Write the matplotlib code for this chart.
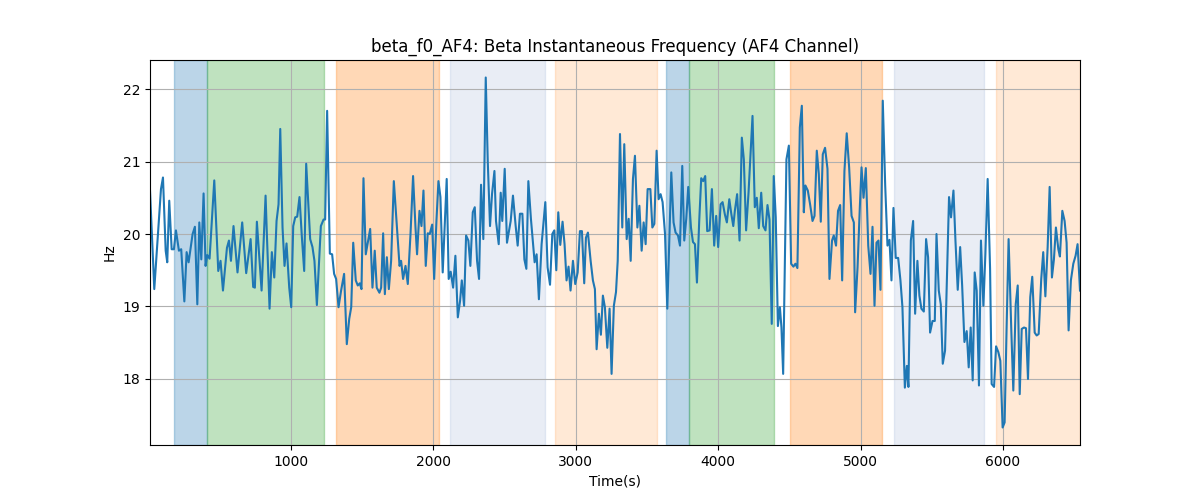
import matplotlib
matplotlib.use('Agg')
from matplotlib import pyplot as plt

# time points (s) and beta instantaneous frequency (Hz)
t = [14, 44, 91, 105, 124, 135, 149, 166, 182, 196, 217, 233, 255, 271, 285, 313, 329, 346, 360, 374,
     390, 404, 416, 432, 465, 493, 509, 526, 554, 568, 582, 600, 628, 661, 689, 720, 738, 750, 764, 797,
     825, 834, 853, 869, 886, 902, 916, 928, 944, 958, 972, 991, 1005, 1019, 1033, 1047, 1063, 1080, 1096, 1110,
     1138, 1154, 1168, 1185, 1213, 1232, 1243, 1257, 1276, 1292, 1306, 1320, 1337, 1355, 1376, 1395, 1412, 1426, 1440, 1458,
     1472, 1486, 1498, 1512, 1528, 1559, 1575, 1591, 1605, 1624, 1636, 1650, 1662, 1676, 1690, 1706, 1725, 1744, 1765, 1776,
     1790, 1807, 1823, 1842, 1860, 1877, 1888, 1905, 1919, 1933, 1949, 1963, 1977, 1994, 2008, 2024, 2038, 2052, 2068, 2082,
     2096, 2110, 2124, 2141, 2157, 2174, 2190, 2202, 2218, 2232, 2248, 2262, 2279, 2293, 2309, 2323, 2337, 2353, 2370, 2384,
     2400, 2414, 2431, 2442, 2461, 2475, 2486, 2503, 2519, 2545, 2561, 2580, 2594, 2610, 2627, 2641, 2655, 2669, 2687, 2713,
     2727, 2743, 2762, 2788, 2804, 2821, 2837, 2851, 2865, 2879, 2893, 2909, 2923, 2937, 2951, 2965, 2982, 2998, 3015, 3031,
     3045, 3061, 3073, 3087, 3106, 3122, 3136, 3148, 3164, 3178, 3192, 3206, 3223, 3239, 3253, 3269, 3284, 3296, 3312, 3328,
     3342, 3359, 3373, 3387, 3403, 3417, 3434, 3448, 3464, 3478, 3492, 3506, 3525, 3539, 3553, 3569, 3583, 3597, 3611, 3628,
     3644, 3658, 3672, 3688, 3702, 3719, 3733, 3749, 3763, 3777, 3791, 3810, 3824, 3838, 3852, 3868, 3882, 3896, 3910, 3924,
     3941, 3957, 3973, 3987, 4001, 4018, 4032, 4048, 4062, 4079, 4093, 4107, 4118, 4134, 4151, 4167, 4181, 4197, 4214, 4230,
     4242, 4258, 4272, 4286, 4303, 4317, 4333, 4347, 4361, 4377, 4391, 4405, 4420, 4434, 4445, 4457, 4480, 4497, 4513, 4529,
     4543, 4557, 4574, 4588, 4602, 4613, 4630, 4646, 4663, 4677, 4693, 4707, 4721, 4735, 4751, 4768, 4782, 4800, 4812, 4828,
     4842, 4857, 4871, 4887, 4903, 4920, 4937, 4953, 4962, 4979, 4995, 5007, 5021, 5037, 5054, 5070, 5084, 5098, 5112, 5126,
     5140, 5156, 5173, 5189, 5203, 5217, 5231, 5247, 5264, 5280, 5294, 5311, 5325, 5336, 5353, 5369, 5383, 5399, 5413, 5427,
     5444, 5460, 5474, 5488, 5505, 5521, 5533, 5549, 5563, 5577, 5593, 5607, 5621, 5635, 5652, 5666, 5682, 5699, 5713, 5729,
     5745, 5759, 5773, 5787, 5801, 5815, 5831, 5845, 5862, 5876, 5892, 5909, 5920, 5937, 5951, 5967, 5981, 5997, 6011, 6025,
     6039, 6058, 6072, 6089, 6103, 6117, 6131, 6147, 6161, 6175, 6191, 6205, 6222, 6236, 6250, 6268, 6282, 6297, 6313, 6327,
     6343, 6357, 6371, 6388, 6399, 6416, 6432, 6446, 6460, 6476, 6493, 6509, 6523, 6540]
hz = [20.60, 19.24, 20.62, 20.78, 19.77, 19.61, 20.46, 19.79, 19.79, 20.05, 19.77, 19.79, 19.07, 19.75, 19.61, 20.00, 20.10, 19.03, 20.16, 19.65,
      20.56, 19.56, 19.71, 19.66, 20.74, 19.49, 19.63, 19.22, 19.81, 19.91, 19.63, 20.11, 19.47, 20.16, 19.46, 19.93, 19.27, 19.26, 20.17, 19.22,
      20.53, 20.00, 18.97, 19.75, 19.40, 20.18, 20.41, 21.45, 20.09, 19.56, 19.87, 19.26, 18.99, 20.11, 20.23, 20.24, 20.51, 19.95, 19.49, 20.97,
      19.93, 19.82, 19.63, 19.02, 20.11, 20.20, 20.20, 21.70, 19.73, 19.72, 19.45, 19.38, 18.99, 19.22, 19.45, 18.48, 18.83, 18.99, 19.88, 19.36,
      19.29, 19.32, 19.24, 20.77, 19.72, 20.07, 19.26, 19.77, 19.26, 19.19, 19.26, 20.01, 19.17, 19.68, 19.24, 19.63, 20.73, 20.18, 19.56, 19.63,
      19.38, 19.56, 19.31, 20.00, 20.80, 20.09, 19.72, 20.32, 20.11, 20.60, 19.56, 20.01, 20.00, 20.13, 19.38, 20.18, 20.73, 20.51, 19.47, 20.11,
      20.76, 19.38, 19.48, 19.26, 19.70, 18.85, 19.08, 19.36, 19.01, 19.98, 19.91, 19.56, 20.30, 20.37, 19.63, 19.38, 20.68, 19.93, 22.16, 21.01,
      20.11, 20.55, 20.87, 20.18, 19.86, 20.57, 20.18, 20.90, 19.88, 20.18, 20.53, 20.11, 19.84, 20.28, 20.28, 19.65, 19.52, 20.73, 20.21, 19.61,
      19.72, 19.10, 19.86, 20.44, 19.54, 19.30, 20.00, 20.05, 19.50, 20.30, 19.85, 20.17, 19.86, 19.36, 19.55, 19.22, 19.63, 19.31, 19.47, 20.04,
      20.04, 19.32, 19.95, 20.02, 19.63, 19.36, 19.24, 18.41, 18.90, 18.61, 19.15, 18.99, 18.43, 18.97, 18.07, 19.01, 19.20, 19.63, 21.38, 20.09,
      21.24, 19.93, 20.21, 19.63, 20.76, 21.08, 20.09, 20.39, 19.77, 20.16, 19.86, 20.62, 20.62, 20.09, 20.14, 21.15, 20.48, 20.55, 20.44, 20.00,
      18.97, 19.91, 20.85, 20.16, 20.02, 19.98, 19.84, 20.94, 19.91, 20.21, 20.65, 20.09, 19.89, 19.86, 19.33, 20.18, 20.77, 20.73, 20.80, 20.04,
      20.05, 20.62, 19.84, 20.25, 19.82, 20.41, 20.44, 20.27, 20.16, 20.48, 20.28, 20.11, 20.32, 20.55, 19.91, 21.33, 21.03, 20.05, 20.57, 21.19,
      21.63, 20.37, 20.50, 20.08, 20.57, 20.11, 20.05, 20.40, 20.20, 18.76, 20.80, 20.23, 18.73, 18.99, 18.71, 18.07, 21.03, 21.22, 19.59, 19.55,
      19.59, 19.53, 21.47, 21.77, 20.30, 20.67, 20.60, 20.41, 20.18, 20.25, 21.15, 20.83, 20.17, 21.10, 21.19, 20.90, 19.38, 19.91, 19.98, 19.84,
      20.32, 20.40, 19.36, 20.87, 21.39, 20.92, 20.25, 20.16, 18.92, 19.54, 20.37, 20.92, 20.50, 20.91, 19.84, 19.45, 20.10, 19.01, 19.88, 19.91,
      19.23, 21.84, 20.67, 19.84, 19.92, 19.36, 20.36, 19.67, 19.67, 19.36, 18.99, 17.88, 18.18, 17.89, 19.91, 20.18, 18.90, 19.63, 19.15, 18.97,
      18.93, 19.93, 19.68, 18.64, 18.80, 18.80, 20.00, 19.22, 19.03, 18.21, 18.39, 19.45, 20.51, 20.23, 20.60, 19.91, 19.23, 19.82, 19.29, 18.51,
      18.66, 18.16, 18.71, 17.98, 19.47, 19.22, 17.91, 19.91, 19.01, 19.72, 20.76, 19.52, 17.93, 17.89, 18.45, 18.37, 18.25, 17.33, 17.40, 18.71,
      19.93, 18.67, 17.84, 19.03, 19.29, 17.79, 18.69, 18.71, 18.70, 18.00, 19.13, 19.41, 18.64, 18.60, 18.62, 19.38, 19.75, 19.14, 19.82, 20.65,
      19.40, 19.65, 20.09, 19.79, 19.69, 20.32, 20.18, 19.88, 18.67, 19.36, 19.59, 19.70, 19.86, 19.22]

# shaded segments: start, end, colour, alpha
span_start = [185, 417, 1321, 2120, 2856, 3635, 3798, 4507, 5233, 5949]
span_end = [417, 1237, 2041, 2784, 3569, 3798, 4390, 5154, 5863, 6540]
span_color = ['tab:blue', 'tab:green', 'tab:orange', '#4c72b0', 'tab:orange',
              'tab:blue', 'tab:green', 'tab:orange', '#4c72b0', 'tab:orange']
span_alpha = [0.3, 0.3, 0.3, 0.12, 0.17, 0.3, 0.3, 0.3, 0.12, 0.17]

fig, ax = plt.subplots(figsize=(12, 5), dpi=100)
for s, e, c, a in zip(span_start, span_end, span_color, span_alpha):
    ax.axvspan(s, e, color=c, alpha=a)
ax.plot(t, hz, color='tab:blue', linewidth=1.5)
ax.set_xlim(t[0], t[-1])
ax.set_title('beta_f0_AF4: Beta Instantaneous Frequency (AF4 Channel)')
ax.set_xlabel('Time(s)')
ax.set_ylabel('Hz')
ax.grid(True)
fig.savefig('out.png')
